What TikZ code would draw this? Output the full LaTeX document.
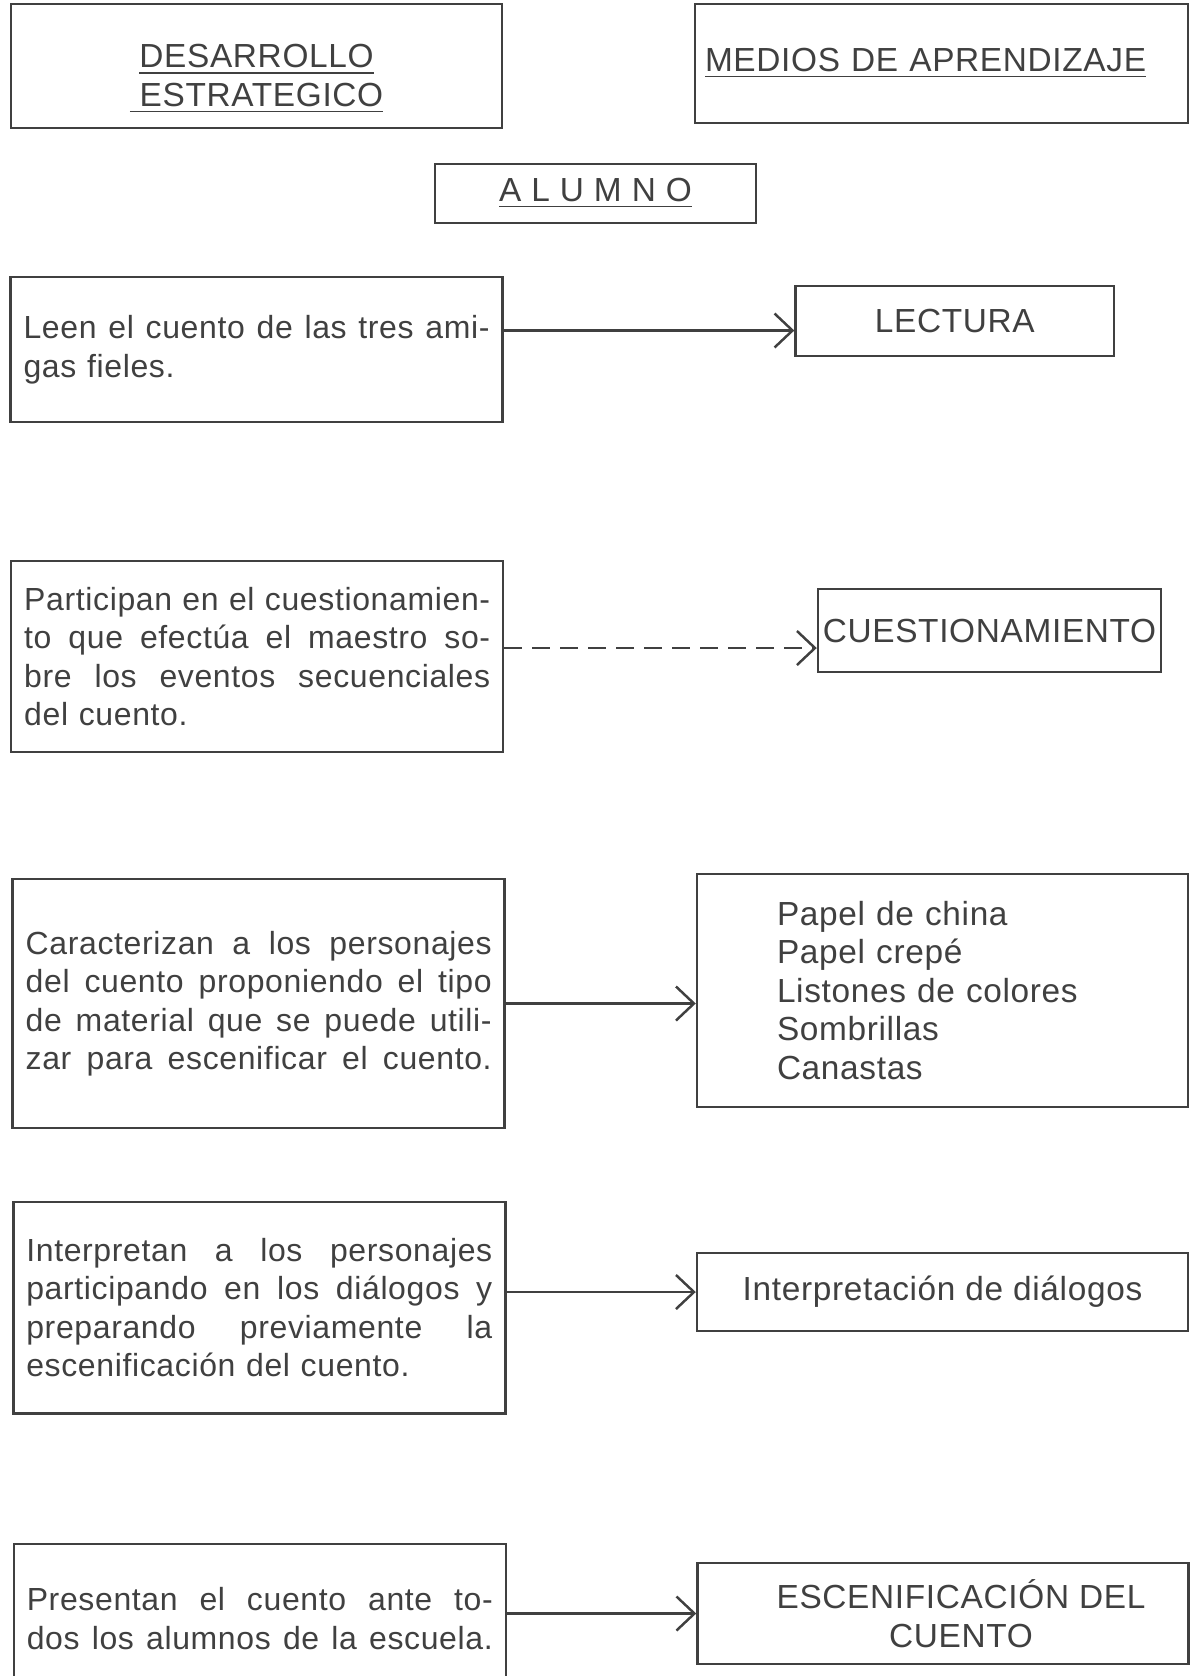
\documentclass[tikz,border=0pt]{standalone}
\usepackage{fontspec}
\usepackage{tikz}
\usetikzlibrary{arrows.meta}
\setmainfont{Liberation Sans}[LetterSpace = 2]
\definecolor{ink}{gray}{0.25}
\newlength{\colw}
\setlength{\colw}{4.66cm}
\newcommand{\jline}[1]{\makebox[\colw][s]{\spaceskip=0pt\xspaceskip=0pt #1}}
\tikzset{box/.style = {draw = ink, line width = 0.7pt, inner sep = 0, text = ink,
                       font = \fontsize{9.5}{10.95}\selectfont}}
\tikzset{leftbox/.style = {box, text width = \colw, inner xsep = 0.13cm, align = left,
                           font = \fontsize{9.1}{10.95}\selectfont}}
\tikzset{tobox/.style = {draw = ink, line width = 0.7pt,
                         -{Straight Barb[length = 1.8mm, width = 3.4mm]}}}

\begin{document}
\begin{tikzpicture}
      \clip (0, 0) rectangle (11.9, -16.76);
      \fill [white] (0, 0) rectangle (11.9, -16.76);
      % headings
      \node [box, minimum width = 4.91cm, minimum height = 1.24cm,
             label = {[text = ink, font = \fontsize{9.5}{10.95}\selectfont, align = center, yshift = -0.13cm]center:
                      \underline{DESARROLLO}\\\underline{\ ESTRATEGICO}}] (desa) at (2.565, -0.66) {};
      \node [box, minimum height = 1.19cm, text width = 4.73cm, inner xsep = 0.1cm, align = left] (medios) at (9.415, -0.635)
            {\underline{MEDIOS DE APRENDIZAJE}};
      \node [box, minimum width = 3.21cm, minimum height = 0.59cm] (alumno) at (5.955, -1.935)
            {\addfontfeature{LetterSpace = 30}\underline{ALUMNO}};
      % left column
      \node [leftbox, minimum height = 1.45cm] (leen) at (2.566, -3.495)
            {\jline{Leen el cuento de las tres ami-}\\gas fieles.};
      \node [leftbox, minimum height = 1.907cm] (part) at (2.572, -6.564)
            {\jline{Participan en el cuestionamien-}\\\jline{to que efectúa el maestro so-}\\\jline{bre los eventos secuenciales}\\del cuento.};
      \node [leftbox, minimum height = 2.49cm] (car) at (2.587, -10.035)
            {\jline{Caracterizan a los personajes}\\\jline{del cuento proponiendo el tipo}\\\jline{de material que se puede utili-}\\\jline{zar para escenificar el cuento.}};
      \node [leftbox, minimum height = 2.117cm] (interp) at (2.593, -13.077)
            {\jline{Interpretan a los personajes}\\\jline{participando en los diálogos y}\\\jline{preparando previamente la}\\escenificación del cuento.};
      \node [leftbox, minimum height = 1.49cm] (pres) at (2.598, -16.185)
            {\jline{Presentan el cuento ante to-}\\\jline{dos los alumnos de la escuela.}};
      % right column
      \node [box, minimum width = 3.185cm, minimum height = 0.695cm] (lect) at (9.548, -3.21) {LECTURA};
      \node [box, minimum width = 3.43cm, minimum height = 0.83cm] (cuest) at (9.895, -6.305) {CUESTIONAMIENTO};
      \node [box, minimum height = 2.33cm, text width = 3.31cm, inner xsep = 0.8cm, align = left] (list) at (9.425, -9.905)
            {Papel de china\\Papel crepé\\Listones de colores\\Sombrillas\\Canastas};
      \node [box, minimum width = 4.91cm, minimum height = 0.78cm] (intd) at (9.425, -12.92) {Interpretación de diálogos};
      \node [box, minimum width = 4.91cm, minimum height = 1.01cm,
             label = {[text = ink, font = \fontsize{9.5}{10.95}\selectfont, align = center, xshift = 0.18cm]center:
                      ESCENIFICACIÓN DEL\\CUENTO}] (esc) at (9.43, -16.135) {};
      % arrows
      \draw [tobox] ([yshift = 0.19cm] leen.east) -- ([yshift = 0.19cm] leen.east -| lect.west);
      \draw [tobox, dash pattern = on 1.8mm off 1mm] ([yshift = 0.084cm] part.east) -- ([yshift = 0.084cm] part.east -| cuest.west);
      \draw [tobox] (car.east) -- (car.east -| list.west);
      \draw [tobox] (intd.west -| interp.east) -- (intd.west);
      \draw [tobox] (esc.west -| pres.east) -- (esc.west);
    \end{tikzpicture}
\end{document}
